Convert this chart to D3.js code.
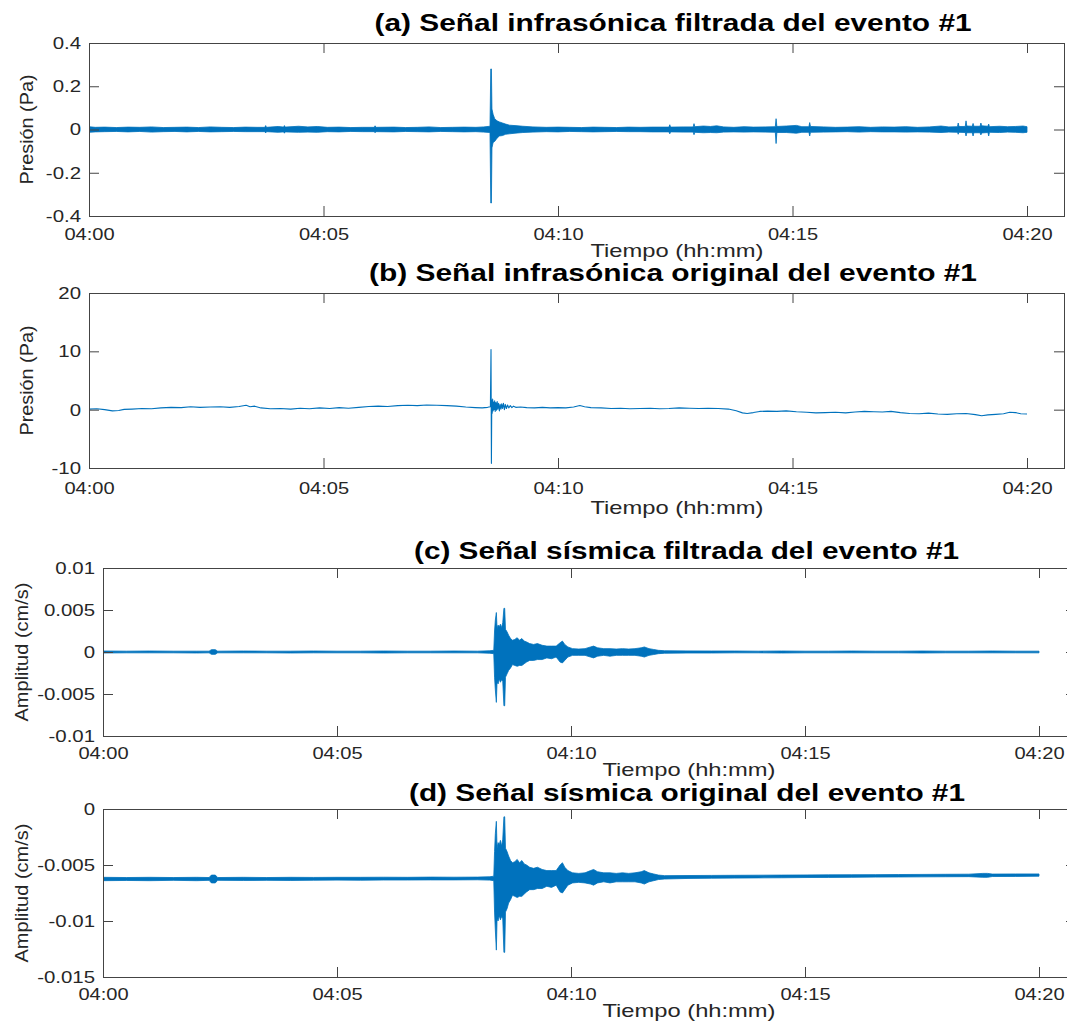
<!DOCTYPE html>
<html><head><meta charset="utf-8">
<script src="https://cdn.jsdelivr.net/npm/d3@7"></script>
<style>
body{margin:0;background:#fff}
svg{display:block}
text{font-family:"Liberation Sans",Arial,Helvetica,sans-serif}
</style>
</head><body>
<svg id="chart" width="1067" height="1026"></svg>
<script>
// ---------------- DATA ----------------
// time in seconds after 04:00:00
const timeTickSec = [0, 300, 600, 900, 1200];
const timeTickLabels = ["04:00", "04:05", "04:10", "04:15", "04:20"];

const aYTicks = [-0.4, -0.2, 0, 0.2, 0.4];
const aYLabels = ["-0.4", "-0.2", "0", "0.2", "0.4"];
const bYTicks = [-10, 0, 10, 20];
const bYLabels = ["-10", "0", "10", "20"];
const cYTicks = [-0.01, -0.005, 0, 0.005, 0.01];
const cYLabels = ["-0.01", "-0.005", "0", "0.005", "0.01"];
const dYTicks = [-0.015, -0.01, -0.005, 0];
const dYLabels = ["-0.015", "-0.01", "-0.005", "0"];

const titles = [
  "(a) Señal infrasónica filtrada del evento #1",
  "(b) Señal infrasónica original del evento #1",
  "(c) Señal sísmica filtrada del evento #1",
  "(d) Señal sísmica original del evento #1"
];
const yLabels = ["Presión (Pa)", "Presión (Pa)", "Amplitud (cm/s)", "Amplitud (cm/s)"];
const xLabel = "Tiempo (hh:mm)";

// (a) filtered infrasound: envelope [sec, max, min] (Pa)
const aEnv = [
[0,0.013,-0.013],[8,0.010,-0.011],[20,0.011,-0.010],[35,0.009,-0.009],[50,0.011,-0.011],
[65,0.010,-0.009],[80,0.012,-0.012],[95,0.009,-0.010],[110,0.010,-0.009],[125,0.011,-0.011],
[140,0.009,-0.009],[155,0.012,-0.011],[170,0.010,-0.010],[185,0.009,-0.009],[200,0.011,-0.010],
[215,0.010,-0.010],[225,0.010,-0.010],[226,0.018,-0.016],[227,0.010,-0.010],[242,0.014,-0.013],
[249,0.011,-0.011],[250,0.018,-0.017],[251,0.011,-0.011],[268,0.015,-0.013],[280,0.012,-0.012],
[292,0.014,-0.013],[305,0.010,-0.010],[320,0.011,-0.011],[335,0.009,-0.009],[350,0.010,-0.010],
[365,0.010,-0.010],[366,0.017,-0.015],[367,0.010,-0.010],[390,0.011,-0.011],[405,0.009,-0.009],
[420,0.010,-0.010],[435,0.012,-0.011],[450,0.009,-0.009],[465,0.010,-0.010],[480,0.011,-0.011],
[495,0.010,-0.010],[505,0.012,-0.012],[513,0.015,-0.014],[514,0.28,-0.34],[514.8,0.28,-0.34],
[515.5,0.095,-0.085],[517,0.07,-0.06],[519,0.05,-0.055],[522,0.04,-0.04],[525,0.035,-0.03],
[529,0.03,-0.028],[533,0.025,-0.022],[538,0.02,-0.02],[545,0.018,-0.017],[555,0.015,-0.014],
[568,0.012,-0.012],[585,0.010,-0.010],[600,0.011,-0.011],[615,0.010,-0.009],[630,0.009,-0.010],
[645,0.011,-0.011],[660,0.010,-0.010],[675,0.009,-0.009],[690,0.011,-0.010],[705,0.010,-0.010],
[720,0.011,-0.011],[742,0.011,-0.011],[743,0.022,-0.02],[744,0.011,-0.011],[760,0.012,-0.012],
[773,0.012,-0.012],[774,0.027,-0.024],[775,0.013,-0.013],[786,0.016,-0.015],[795,0.014,-0.014],
[803,0.017,-0.015],[812,0.012,-0.012],[825,0.010,-0.011],[838,0.013,-0.012],[850,0.011,-0.011],
[865,0.012,-0.012],[878,0.013,-0.013],[879,0.05,-0.065],[880,0.014,-0.014],[892,0.016,-0.014],
[905,0.019,-0.017],[912,0.013,-0.013],[921,0.013,-0.013],[922,0.032,-0.03],[923,0.014,-0.013],
[940,0.012,-0.012],[955,0.010,-0.011],[970,0.011,-0.010],[985,0.013,-0.012],[1000,0.010,-0.010],
[1015,0.012,-0.011],[1030,0.011,-0.011],[1045,0.013,-0.012],[1060,0.010,-0.011],[1075,0.012,-0.012],
[1090,0.016,-0.014],[1100,0.012,-0.012],[1111,0.013,-0.013],[1112,0.03,-0.022],[1113,0.014,-0.013],
[1121,0.014,-0.014],[1122,0.04,-0.03],[1123,0.016,-0.015],[1130,0.015,-0.015],[1131,0.028,-0.03],
[1132,0.015,-0.015],[1140,0.015,-0.015],[1141,0.03,-0.025],[1142,0.017,-0.016],[1150,0.015,-0.014],
[1151,0.025,-0.03],[1152,0.013,-0.013],[1165,0.015,-0.014],[1175,0.013,-0.012],[1185,0.014,-0.013],
[1195,0.016,-0.015],[1200,0.013,-0.013]
];

// (b) original infrasound: [sec, value] (Pa)
const bSig = [
[0,0.1],[10,0.15],[20,0.0],[30,-0.2],[38,-0.15],[45,0.05],[55,0.1],[68,0.2],[80,0.15],[92,0.3],
[105,0.4],[118,0.35],[130,0.5],[142,0.4],[155,0.45],[168,0.5],[180,0.4],[192,0.55],[201,0.75],[206,0.5],
[212,0.6],[220,0.3],[232,0.15],[245,0.2],[258,0.1],[270,0.25],[282,0.15],[295,0.3],[308,0.2],[320,0.35],
[332,0.25],[345,0.4],[358,0.55],[370,0.6],[382,0.55],[395,0.7],[408,0.75],[420,0.7],[432,0.8],[445,0.75],
[458,0.7],[470,0.6],[482,0.45],[494,0.35],[503,0.3],[510,0.4],[513.5,0.5],
[514.3,10.3],[514.8,-9.2],[515.3,1.6],[515.8,-0.6],[516.4,1.8],[517,-0.2],[517.6,1.3],[518.3,0.0],
[519,1.5],[519.7,-0.3],[520.5,1.2],[521.3,-0.1],[522.2,1.4],[523,0.1],[524,1.1],[525,-0.2],[526,0.9],
[527,0.1],[528,1.0],[529,0.2],[530.2,1.1],[531.4,0.0],[532.6,0.9],[534,0.2],[535.5,0.8],[537,0.3],
[539,0.7],[541,0.35],[543,0.6],[546,0.4],
[552,0.45],[560,0.35],[570,0.3],[580,0.4],[590,0.3],[600,0.35],[610,0.3],[620,0.45],[628,0.7],[634,0.5],
[642,0.35],[655,0.3],[668,0.2],[680,0.25],[692,0.15],[705,0.2],[718,0.25],[730,0.15],[742,0.2],[755,0.3],
[768,0.25],[780,0.2],[792,0.25],[805,0.2],[818,0.1],[828,-0.2],[836,-0.55],[842,-0.65],[850,-0.5],[858,-0.3],
[868,-0.25],[880,-0.3],[892,-0.2],[905,-0.35],[918,-0.45],[930,-0.55],[942,-0.5],[955,-0.45],[968,-0.55],[980,-0.4],
[992,-0.3],[1004,-0.35],[1015,-0.4],[1026,-0.3],[1038,-0.5],[1050,-0.65],[1062,-0.7],[1074,-0.6],[1086,-0.75],[1098,-0.8],
[1110,-0.7],[1122,-0.65],[1134,-0.85],[1142,-1.05],[1150,-0.9],[1160,-0.8],[1170,-0.7],[1178,-0.45],[1185,-0.5],[1192,-0.7],
[1200,-0.75]
];

// (c) filtered seismic: envelope [sec, max, min] (cm/s)
const cEnv = [
[0,0.00012,-0.00012],[30,0.0001,-0.0001],[60,0.00012,-0.0001],[90,0.0001,-0.0001],[120,0.0001,-0.00012],
[136,0.0001,-0.0001],[139,0.00028,-0.00028],[144,0.00028,-0.00028],[147,0.0001,-0.0001],[180,0.00012,-0.0001],
[210,0.0001,-0.0001],[240,0.0001,-0.00012],[270,0.00012,-0.0001],[300,0.0001,-0.0001],[330,0.0001,-0.0001],
[360,0.00012,-0.00012],[390,0.0001,-0.0001],[420,0.0001,-0.0001],[450,0.00012,-0.0001],[480,0.0001,-0.0001],
[496,0.00015,-0.00015],[501,0.0002,-0.0002],[502,0.0025,-0.003],[503,0.0038,-0.0045],[504.3,0.0047,-0.006],
[505.2,0.0028,-0.0035],[506.5,0.0032,-0.0038],[508,0.003,-0.0032],[509.5,0.0033,-0.0036],[511,0.0029,-0.0033],
[512.5,0.0035,-0.0035],[514,0.0052,-0.0064],[515,0.0052,-0.0064],[516,0.0027,-0.003],[518,0.0024,-0.0026],
[520,0.002,-0.0022],[522.5,0.0016,-0.0019],[525,0.0014,-0.0015],[528,0.0015,-0.0016],[531,0.0017,-0.0017],
[534,0.0014,-0.0016],[537,0.0016,-0.0016],[540,0.0013,-0.0014],[543,0.0012,-0.0012],[547,0.001,-0.001],
[552,0.0009,-0.001],[557,0.001,-0.0009],[563,0.0008,-0.0009],[569,0.0007,-0.0007],[575,0.0007,-0.0008],
[581,0.0007,-0.0006],[586,0.0011,-0.0012],[589,0.0013,-0.0013],[592,0.0009,-0.001],[596,0.0006,-0.0006],
[602,0.0004,-0.0004],[610,0.00035,-0.0004],[618,0.0004,-0.0004],[625,0.0006,-0.0006],[629,0.0007,-0.0007],
[634,0.0005,-0.0005],[642,0.0004,-0.0004],[650,0.0004,-0.0005],[658,0.00035,-0.0004],[666,0.0004,-0.0004],
[674,0.00035,-0.0004],[682,0.0004,-0.0004],[690,0.0005,-0.0005],[694,0.0006,-0.0006],[700,0.0004,-0.0004],
[706,0.0003,-0.0003],[712,0.0002,-0.0002],[720,0.00015,-0.00015],[750,0.00013,-0.00012],[780,0.00012,-0.00012],
[810,0.00012,-0.0001],[840,0.0001,-0.0001],[870,0.00012,-0.00012],[900,0.0001,-0.0001],[930,0.0001,-0.0001],
[960,0.00012,-0.0001],[990,0.0001,-0.0001],[1020,0.0001,-0.0001],[1050,0.00012,-0.00012],[1080,0.0001,-0.0001],
[1110,0.0001,-0.0001],[1140,0.00012,-0.0001],[1170,0.0001,-0.0001],[1200,0.0001,-0.0001]
];

// (d) original seismic: envelope [sec, max, min] (cm/s)
const dEnv = [
[0,-0.0061,-0.0064],[30,-0.00612,-0.00638],[60,-0.0061,-0.0064],[90,-0.00612,-0.00637],[120,-0.0061,-0.0064],
[136,-0.00612,-0.00637],[139,-0.0059,-0.0066],[144,-0.0059,-0.0066],[147,-0.00612,-0.00637],[180,-0.0061,-0.00638],
[210,-0.00612,-0.00637],[240,-0.0061,-0.00638],[270,-0.00611,-0.00636],[300,-0.0061,-0.00635],[330,-0.0061,-0.00636],
[360,-0.00609,-0.00634],[390,-0.0061,-0.00634],[420,-0.00608,-0.00633],[450,-0.00609,-0.00633],[480,-0.00608,-0.00632],
[496,-0.00605,-0.00635],[501,-0.006,-0.0064],[502,-0.0038,-0.0092],[503,-0.0022,-0.0108],[504.3,-0.0011,-0.0126],
[505.2,-0.0035,-0.0098],[506.5,-0.003,-0.01],[508,-0.0032,-0.0095],[509.5,-0.0028,-0.0099],[511,-0.0033,-0.0096],
[512.5,-0.0027,-0.0098],[514,-0.0007,-0.0128],[515,-0.0007,-0.0128],[516,-0.0035,-0.0092],[518,-0.0038,-0.0089],
[520,-0.0042,-0.0084],[522.5,-0.0046,-0.0081],[525,-0.0048,-0.0077],[528,-0.0047,-0.0078],[531,-0.0045,-0.0079],
[534,-0.0048,-0.0078],[537,-0.0046,-0.0078],[540,-0.0049,-0.0076],[543,-0.005,-0.0074],[547,-0.0052,-0.0072],
[552,-0.0053,-0.0072],[557,-0.0052,-0.0071],[563,-0.0054,-0.0071],[569,-0.0055,-0.0069],[575,-0.0055,-0.007],
[581,-0.0055,-0.0068],[586,-0.005,-0.0074],[589,-0.0048,-0.0075],[592,-0.0052,-0.0072],[596,-0.0055,-0.0068],
[602,-0.0057,-0.0066],[610,-0.00575,-0.00655],[618,-0.0057,-0.0066],[625,-0.0055,-0.0067],[629,-0.0054,-0.0068],
[634,-0.0056,-0.0066],[642,-0.0057,-0.0065],[650,-0.0057,-0.0066],[658,-0.00575,-0.0065],[666,-0.0057,-0.0065],
[674,-0.00575,-0.0065],[682,-0.0057,-0.0065],[690,-0.0056,-0.0066],[694,-0.0055,-0.0067],[700,-0.0057,-0.0065],
[706,-0.0058,-0.0064],[712,-0.0059,-0.0063],[720,-0.00595,-0.00625],[750,-0.00594,-0.0062],[780,-0.00593,-0.00618],
[810,-0.00592,-0.00617],[840,-0.00591,-0.00615],[870,-0.0059,-0.00614],[900,-0.00589,-0.00612],[930,-0.00588,-0.00611],
[960,-0.00587,-0.0061],[990,-0.00586,-0.00608],[1020,-0.00585,-0.00607],[1050,-0.00584,-0.00606],[1080,-0.00583,-0.00605],
[1110,-0.00582,-0.00604],[1128,-0.00575,-0.0061],[1134,-0.00575,-0.0061],[1140,-0.00581,-0.00603],[1170,-0.0058,-0.00602],
[1200,-0.0058,-0.006]
];

// ---------------- LAYOUT ----------------
const W = 1067, H = 1026;
const BLUE = "#0072BD", AX = "#444444", TXT = "#262626";
const base = Date.UTC(2000, 0, 1, 4, 0, 0);
const toDate = s => new Date(base + s * 1000);

const panels = [
  {env: aEnv, ticks: aYTicks, labels: aYLabels, ydom: [-0.4, 0.4],
   left: 89, x20: 1027, right: 1064, top: 43, bottom: 216,
   titleX: 374.6, titleW: 597, titleY: 31, xlabX: 677, xlabY: 257, tickPad: 12, ylabX: 26, ylabW: 110},
  {line: bSig, ticks: bYTicks, labels: bYLabels, ydom: [-10, 20],
   left: 89, x20: 1027, right: 1064, top: 293, bottom: 468,
   titleX: 369, titleW: 608, titleY: 281, xlabX: 677, xlabY: 514, tickPad: 14, ylabX: 26, ylabW: 110},
  {env: cEnv, ticks: cYTicks, labels: cYLabels, ydom: [-0.01, 0.01],
   left: 103, x20: 1039, right: 1076, top: 568, bottom: 736,
   titleX: 414, titleW: 545, titleY: 559, xlabX: 689, xlabY: 776, tickPad: 11, ylabX: 21, ylabW: 139},
  {env: dEnv, ticks: dYTicks, labels: dYLabels, ydom: [-0.015, 0],
   left: 103, x20: 1039, right: 1076, top: 809, bottom: 977,
   titleX: 409, titleW: 556, titleY: 801, xlabX: 689, xlabY: 1017, tickPad: 11, ylabX: 21, ylabW: 139}
];

const svg = d3.select("#chart");
svg.append("rect").attr("width", W).attr("height", H).attr("fill", "#fff");

function stretch(sel, k) {
  sel.each(function () {
    const w = this.getComputedTextLength();
    this.setAttribute("textLength", w * k);
    this.setAttribute("lengthAdjust", "spacingAndGlyphs");
  });
}

const tickDates = timeTickSec.map(toDate);

panels.forEach((p, i) => {
  const g = svg.append("g");
  const x = d3.scaleUtc().domain([toDate(0), toDate(1200)]).range([p.left, p.x20]);
  const y = d3.scaleLinear().domain(p.ydom).range([p.bottom, p.top]);

  const clipId = "clip" + i;
  g.append("clipPath").attr("id", clipId).append("rect")
    .attr("x", p.left).attr("y", p.top).attr("width", p.right - p.left).attr("height", p.bottom - p.top);

  const dg = g.append("g").attr("clip-path", `url(#${clipId})`);
  if (p.env) {
    const area = d3.area().x(d => x(toDate(d[0]))).y0(d => y(d[2])).y1(d => y(d[1]));
    dg.append("path").attr("d", area(p.env))
      .attr("fill", BLUE).attr("stroke", BLUE).attr("stroke-width", 0.8).attr("stroke-linejoin", "round");
  } else {
    const line = d3.line().x(d => x(toDate(d[0]))).y(d => y(d[1]));
    dg.append("path").attr("d", line(p.line))
      .attr("fill", "none").attr("stroke", BLUE).attr("stroke-width", 1.1).attr("stroke-linejoin", "round");
  }

  // axes (ticks inside, MATLAB style)
  const gx = g.append("g").attr("transform", `translate(0,${p.bottom})`)
    .call(d3.axisBottom(x).tickValues(tickDates).tickFormat((d, j) => timeTickLabels[j])
      .tickSizeInner(-10).tickSizeOuter(0).tickPadding(p.tickPad));
  const gxt = g.append("g").attr("transform", `translate(0,${p.top})`)
    .call(d3.axisTop(x).tickValues(tickDates).tickFormat("").tickSizeInner(-10).tickSizeOuter(0));
  const gy = g.append("g").attr("transform", `translate(${p.left},0)`)
    .call(d3.axisLeft(y).tickValues(p.ticks).tickFormat((d, j) => p.labels[j])
      .tickSizeInner(-10).tickSizeOuter(0).tickPadding(8));
  const gyr = g.append("g").attr("transform", `translate(${p.right},0)`)
    .call(d3.axisRight(y).tickValues(p.ticks).tickFormat("").tickSizeInner(-10).tickSizeOuter(0));

  [gx, gxt, gy, gyr].forEach(a => {
    a.select(".domain").remove();
    a.selectAll(".tick line").attr("stroke", AX).attr("stroke-width", 1);
    a.selectAll(".tick text").attr("fill", TXT).attr("font-size", 17)
      .attr("font-family", '"Liberation Sans",Arial,Helvetica,sans-serif');
  });
  stretch(gx.selectAll(".tick text"), 1.18);
  stretch(gy.selectAll(".tick text"), 1.2);

  // box
  g.append("rect").attr("x", p.left + 0.5).attr("y", p.top + 0.5)
    .attr("width", p.right - p.left).attr("height", p.bottom - p.top)
    .attr("fill", "none").attr("stroke", AX).attr("stroke-width", 1);

  // x label
  g.append("text").attr("x", p.xlabX).attr("y", p.xlabY).attr("text-anchor", "middle")
    .attr("font-size", 19).attr("fill", TXT).attr("textLength", 173).attr("lengthAdjust", "spacingAndGlyphs")
    .text(xLabel);

  // y label
  g.append("text")
    .attr("transform", `translate(${p.ylabX},${(p.top + p.bottom) / 2}) rotate(-90)`)
    .attr("text-anchor", "middle").attr("dy", "0.35em")
    .attr("font-size", 19).attr("fill", TXT)
    .attr("textLength", p.ylabW).attr("lengthAdjust", "spacingAndGlyphs")
    .text(yLabels[i]);

  // title
  g.append("text").attr("x", p.titleX).attr("y", p.titleY)
    .attr("font-size", 23).attr("font-weight", "bold").attr("fill", "#000")
    .attr("textLength", p.titleW).attr("lengthAdjust", "spacingAndGlyphs")
    .text(titles[i]);
});
</script>
</body></html>
